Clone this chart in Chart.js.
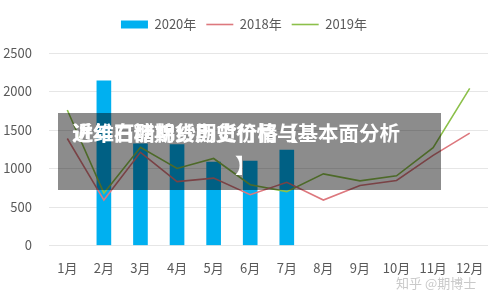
<!DOCTYPE html>
<html>
<head>
<meta charset="utf-8">
<script src="https://cdn.jsdelivr.net/npm/chart.js@4/dist/chart.umd.min.js"></script>
<style>
  html, body { margin: 0; padding: 0; background: #ffffff; }
  #wrap { position: relative; width: 500px; height: 304px; overflow: hidden; }
  #c { position: absolute; left: 0; top: 0; }
  #shade { position: absolute; left: 58px; top: 113px; width: 383px; height: 77px; background: rgba(0,0,0,0.45); }
  .ttl { position: absolute; color: #ffffff; font-family: "Noto Sans CJK SC", sans-serif; font-weight: 700; font-size: 20.5px; line-height: 24px; white-space: nowrap; }
  #wm { position: absolute; left: 396px; top: 273px; color: #c9c9c9; font-family: "Noto Sans CJK SC", sans-serif; font-size: 13px; white-space: nowrap; }
</style>
</head>
<body>
<div id="wrap">
  <canvas id="c" width="500" height="304"></canvas>
  <div id="shade"></div>
  <div class="ttl" style="left:72px; top:120px;">近年白糖期货历史行情与基本面分析</div>
  <div class="ttl" style="left:73px; top:120px;">进维石醋棉纱期货价格【</div>
  <div class="ttl" style="left:235px; top:152px;">】</div>
  <div id="wm">知乎 @期博士</div>
</div>
<script>
const months = ['1月','2月','3月','4月','5月','6月','7月','8月','9月','10月','11月','12月'];
const s2020 = [null, 2140, 1320, 1310, 1085, 1095, 1240, null, null, null, null, null];
const s2018 = [1390, 590, 1210, 830, 875, 660, 820, 590, 780, 845, 1170, 1460];
const s2019 = [1760, 680, 1275, 1000, 1130, 790, 700, 930, 840, 905, 1270, 2040];
const yTicks = [0, 500, 1000, 1500, 2000, 2500];

const legendMargin = {
  id: 'legendMargin',
  beforeInit(chart) {
    const fit = chart.legend.fit;
    chart.legend.fit = function () {
      fit.bind(chart.legend)();
      this.height += 12;
    };
  }
};

new Chart(document.getElementById('c'), {
  type: 'bar',
  data: {
    labels: months,
    datasets: [
      { label: '2020年', data: s2020, backgroundColor: '#00b0f0', borderWidth: 0,
        barThickness: 14, order: 1, pointStyle: 'rect' },
      { type: 'line', label: '2018年', data: s2018, borderColor: '#dd787e', backgroundColor: '#dd787e',
        borderWidth: 1.6, pointRadius: 0, tension: 0, order: 0, pointStyle: 'line' },
      { type: 'line', label: '2019年', data: s2019, borderColor: '#8cc04a', backgroundColor: '#8cc04a',
        borderWidth: 1.6, pointRadius: 0, tension: 0, order: 0, pointStyle: 'line' }
    ]
  },
  options: {
    responsive: false,
    animation: false,
    devicePixelRatio: 1,
    layout: { padding: { top: 8, right: 12, left: 0, bottom: 0 } },
    plugins: {
      legend: {
        position: 'top',
        labels: {
          usePointStyle: true,
          pointStyleWidth: 27,
          boxHeight: 8,
          padding: 10,
          color: '#595959',
          sort: (a, b) => a.datasetIndex - b.datasetIndex,
          font: { family: '"Noto Sans CJK SC", sans-serif', size: 13 }
        }
      },
      tooltip: { enabled: false }
    },
    scales: {
      x: {
        grid: { display: false, drawTicks: false },
        border: { display: false },
        ticks: { color: '#595959', padding: 15, maxRotation: 0, autoSkip: false,
          font: { family: '"Noto Sans CJK SC", sans-serif', size: 13 } },
        afterFit(s) { s.height = 58.5; }
      },
      y: {
        min: 0, max: 2500,
        afterBuildTicks(s) { s.ticks = yTicks.map(v => ({ value: v })); },
        grid: { color: '#e6e6e6', drawTicks: false, lineWidth: 1 },
        border: { display: false },
        ticks: { color: '#595959', padding: 17,
          callback: (v) => String(v),
          font: { family: '"Noto Sans CJK SC", sans-serif', size: 13 } },
        afterFit(s) { s.width = 49; }
      }
    }
  },
  plugins: [legendMargin]
});
</script>
</body>
</html>
